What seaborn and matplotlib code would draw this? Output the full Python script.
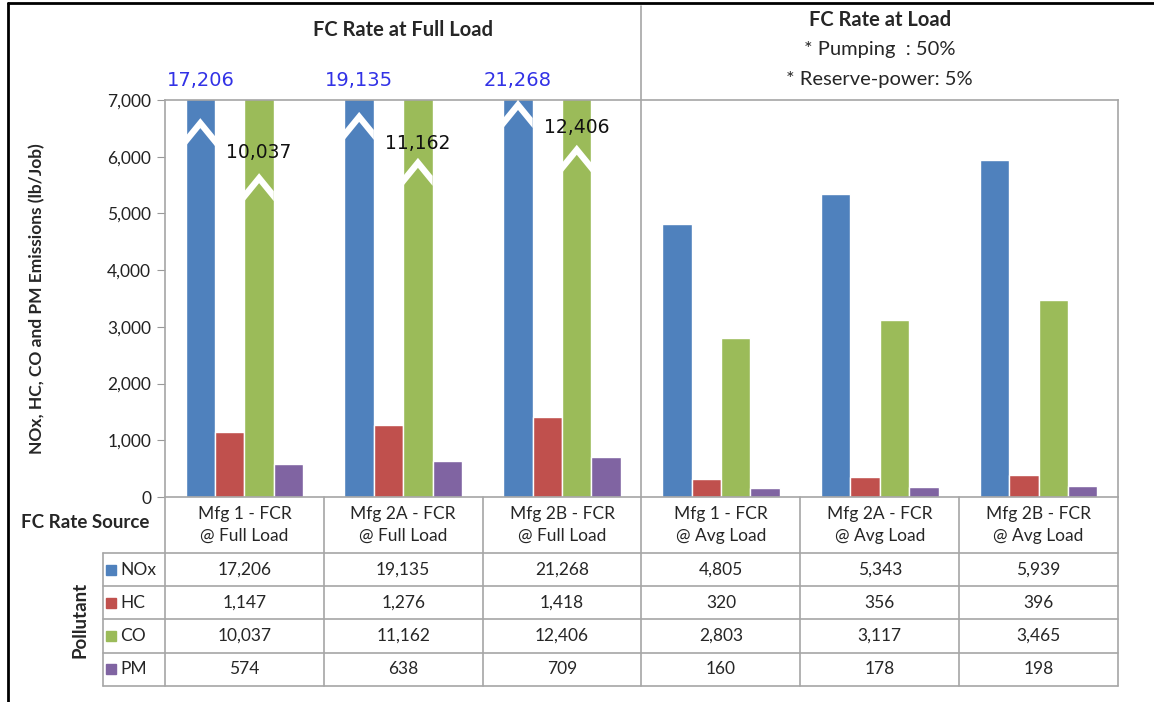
import matplotlib.pyplot as plt
import matplotlib.transforms as mtransforms
from matplotlib.lines import Line2D
import seaborn as sns
import pandas as pd

sources = ['Mfg 1 - FCR\n@ Full Load', 'Mfg 2A - FCR\n@ Full Load', 'Mfg 2B - FCR\n@ Full Load',
           'Mfg 1 - FCR\n@ Avg Load', 'Mfg 2A - FCR\n@ Avg Load', 'Mfg 2B - FCR\n@ Avg Load']
pollutants = ['NOx', 'HC', 'CO', 'PM']
nox = [17206, 19135, 21268, 4805, 5343, 5939]
hc = [1147, 1276, 1418, 320, 356, 396]
co = [10037, 11162, 12406, 2803, 3117, 3465]
pm = [574, 638, 709, 160, 178, 198]
colors = ['#4F81BD', '#C0504D', '#9BBB59', '#8064A2']

# where the white "break" chevrons sit on the clipped bars (value units)
nox_break = [6680, 6790, 7000]
co_break = [5710, 5980, 6210]
co_label_y = [6070, 6240, 6520]

values = [nox, hc, co, pm]
df = pd.DataFrame({
    'Source': sources * 4,
    'Pollutant': [p for p in pollutants for _ in sources],
    'Value': nox + hc + co + pm,
})

sns.set_style('white')
plt.rcParams['font.family'] = ['Lato', 'DejaVu Sans']

fig = plt.figure(figsize=(11.54, 7.02), dpi=100)
W, H = 1154, 702
ax = fig.add_axes([165 / W, 1 - 497 / H, (1118 - 165) / W, 397 / H])

sns.barplot(data=df, x='Source', y='Value', hue='Pollutant', palette=colors,
            width=0.74, saturation=1, errorbar=None, legend=False, ax=ax)

ax.set_ylim(0, 7000)
ax.set_xlim(-0.5, 5.5)
ax.set_xlabel('')
ax.set_xticks([])
ax.set_yticks(range(0, 7001, 1000))
ax.set_yticklabels([f'{v:,}' for v in range(0, 7001, 1000)], fontsize=12.5, color='#222222')
ax.tick_params(axis='y', length=6, color='#999999', left=True, direction='out', pad=4)
for s in ax.spines.values():
    s.set_color('#A6A6A6')
    s.set_linewidth(1.2)
ax.set_ylabel('NOx, HC, CO and PM Emissions (lb/Job)', fontsize=12.5, fontweight='bold')
ax.yaxis.set_label_coords(-0.126, 0.5)

# data x / axes y
trans = mtransforms.blended_transform_factory(ax.transData, ax.transAxes)
px = 7000 / 397  # value units per pixel

# break chevrons and labels for clipped bars
def chevron(bar, apex):
    L = bar.get_x()
    R = L + bar.get_width()
    C = (L + R) / 2
    d, t = 18 * px, 10 * px
    xs = [L, C, R, R, C, L]
    ys = [apex - d, apex, apex - d, apex - d - t, apex - t, apex - d - t]
    ax.fill(xs, ys, color='white', zorder=5, lw=0)

nox_bars = ax.containers[0]
co_bars = ax.containers[2]
k = 0
for bar, v in zip(nox_bars, nox):
    if v > 7000:
        chevron(bar, nox_break[k])
        ax.text(bar.get_x() + bar.get_width() / 2, 7000 + 20 * px, f'{v:,}',
                ha='center', va='center', fontsize=14, color='#3232E6',
                family='DejaVu Sans', clip_on=False)
        k += 1
k = 0
for bar, v in zip(co_bars, co):
    if v > 7000:
        chevron(bar, co_break[k])
        ax.text(bar.get_x() + bar.get_width() / 2, co_label_y[k], f'{v:,}',
                ha='center', va='center', fontsize=13.5, color='#111111',
                family='DejaVu Sans', zorder=6)
        k += 1

# divider between full-load and load groups
ax.add_line(Line2D([2.5, 2.5], [0, 1 + 94 / 397], transform=trans, color='#A6A6A6',
                   lw=1.2, clip_on=False))

# headers
ax.text(1, 1 + 70 / 397, 'FC Rate at Full Load', transform=trans, ha='center', va='center',
        fontsize=14.5, fontweight='bold')
ax.text(4, 1 + 80 / 397, 'FC Rate at Load', transform=trans, ha='center', va='center',
        fontsize=14.5, fontweight='bold')
ax.text(4, 1 + 50 / 397, '* Pumping  : 50%', transform=trans, ha='center', va='center',
        fontsize=14.5)
ax.text(4, 1 + 20 / 397, '* Reserve-power: 5%', transform=trans, ha='center', va='center',
        fontsize=14.5)

# data table underneath
head_h = 56 / 397
row_h = 33.2 / 397
lab_x = -0.5 - 62 / 159
bottom = -head_h - 4 * row_h
lc = '#A6A6A6'
for xi in range(7):
    ax.add_line(Line2D([xi - 0.5, xi - 0.5], [0, bottom], transform=trans, color=lc,
                       lw=1.2, clip_on=False))
ax.add_line(Line2D([lab_x, lab_x], [-head_h, bottom], transform=trans, color=lc, lw=1.2,
                   clip_on=False))
for r in range(5):
    y = -head_h - r * row_h
    ax.add_line(Line2D([lab_x, 5.5], [y, y], transform=trans, color=lc, lw=1.2, clip_on=False))

for i, s in enumerate(sources):
    ax.text(i, -head_h / 2, s, transform=trans, ha='center', va='center', fontsize=12.5,
            linespacing=1.4)
for r, (name, vals) in enumerate(zip(pollutants, values)):
    y = -head_h - (r + 0.5) * row_h
    ax.plot([-0.5 - 54 / 159], [y], marker='s', ms=7, color=colors[r], transform=trans,
            clip_on=False)
    ax.text(-0.5 - 45 / 159, y, name, transform=trans, ha='left', va='center', fontsize=12.5)
    for i, v in enumerate(vals):
        ax.text(i, y, f'{v:,}', transform=trans, ha='center', va='center', fontsize=12.5)

ax.text(-0.5 - 80 / 159, -25 / 397, 'FC Rate Source', transform=trans, ha='center',
        va='center', fontsize=13.5, fontweight='bold')
ax.text(-0.5 - 85 / 159, -head_h - 2 * row_h, 'Pollutant', transform=trans, ha='center',
        va='center', fontsize=13.5, fontweight='bold', rotation=90)

# outer frame
fig.add_artist(Line2D([8 / W, 8 / W], [0, 1 - 3 / H], color='black', lw=2))
fig.add_artist(Line2D([8 / W, 1], [1 - 3 / H, 1 - 3 / H], color='black', lw=2))

plt.savefig('out.png', dpi=100)
